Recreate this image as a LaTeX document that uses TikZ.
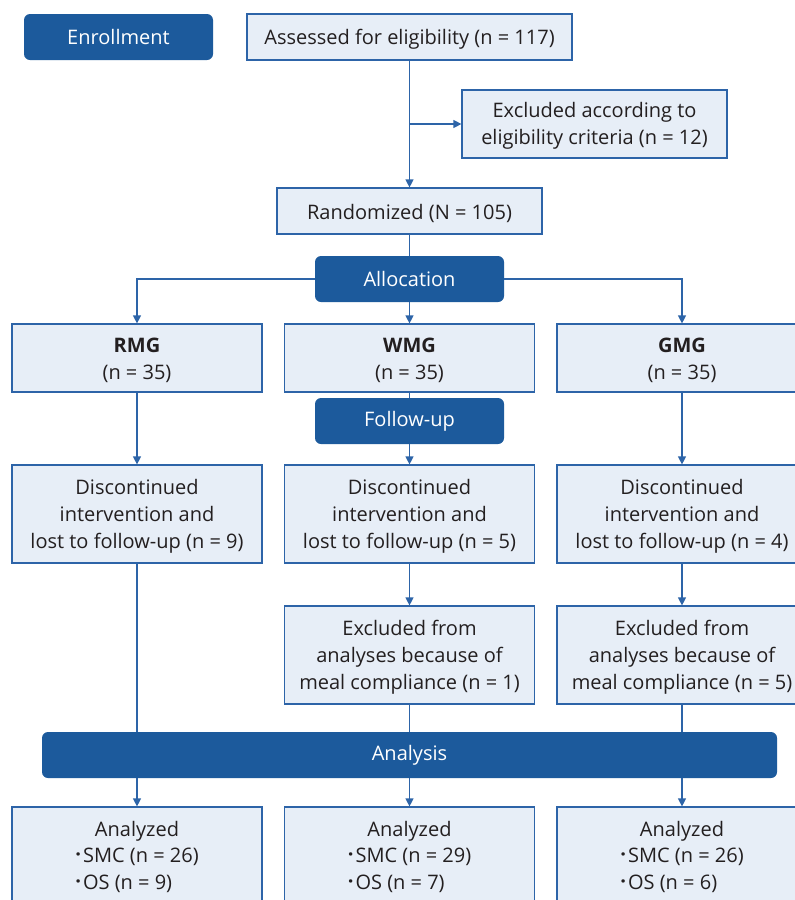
\documentclass[tikz,border=0pt]{standalone}
\usepackage{fontspec}
\setmainfont{Open Sans}
\usetikzlibrary{arrows.meta}
\definecolor{dblue}{HTML}{1C5A9C}
\definecolor{lblue}{HTML}{2D64A8}
\definecolor{boxfill}{HTML}{E7EEF7}
\definecolor{txt}{HTML}{231F20}
\newcommand{\mydot}{\raisebox{0.1ex}{\textbf{·}}\kern2pt}
\newcommand{\lift}{\rule{0pt}{19pt}}
\newcommand{\liftb}{\rule{0pt}{22pt}}
\begin{document}
\begin{tikzpicture}[x=1pt,y=-1pt,
  box/.style={draw=lblue, fill=boxfill, line width=1.2pt, inner sep=0pt, align=center, text=txt, font=\fontsize{20}{27}\selectfont},
  phase/.style={fill=dblue, rounded corners=6pt, text=white, inner sep=0pt, align=center, font=\fontsize{20}{27}\selectfont},
  conn/.style={draw=lblue, line width=1.2pt},
  arr/.style={conn, -{Triangle[length=8pt,width=8pt]}}]
\useasboundingbox (0,0) rectangle (795,900);
\fill[white] (0,0) rectangle (795,900);
% top
\node[phase, minimum width=189pt, minimum height=46pt] (enr) at (118.5,37) {Enrollment};
\node[box, minimum width=325pt, minimum height=46pt] (assess) at (409.5,37) {\rule{0pt}{20pt}Assessed for eligibility (n = 117)};
\node[box, minimum width=265pt, minimum height=68pt] (excl) at (594.5,124) {\lift Excluded according to\\eligibility criteria (n = 12)};
\node[box, minimum width=265pt, minimum height=46pt] (rand) at (409.5,211) {\rule{0pt}{20pt}Randomized (N = 105)};
\node[phase, minimum width=189pt, minimum height=46pt] (alloc) at (409.5,279) {Allocation};
% groups
\node[box, minimum width=250pt, minimum height=68pt] (rmg) at (137,358) {\lift\textbf{RMG}\\(n = 35)};
\node[box, minimum width=250pt, minimum height=68pt] (wmg) at (409.5,358) {\lift\textbf{WMG}\\(n = 35)};
\node[box, minimum width=250pt, minimum height=68pt] (gmg) at (682,358) {\lift\textbf{GMG}\\(n = 35)};
\node[phase, minimum width=189pt, minimum height=46pt] (fu) at (409.5,421) {Follow-up};
% discontinued
\node[box, minimum width=250pt, minimum height=98pt] (d1) at (137,514) {\lift Discontinued\\intervention and\\lost to follow-up (n = 9)};
\node[box, minimum width=250pt, minimum height=98pt] (d2) at (409.5,514) {\lift Discontinued\\intervention and\\lost to follow-up (n = 5)};
\node[box, minimum width=250pt, minimum height=98pt] (d3) at (682,514) {\lift Discontinued\\intervention and\\lost to follow-up (n = 4)};
% excluded from analyses
\node[box, minimum width=250pt, minimum height=98pt] (e2) at (409.5,655) {\lift Excluded from\\analyses because of\\meal compliance (n = 1)};
\node[box, minimum width=250pt, minimum height=98pt] (e3) at (682,655) {\lift Excluded from\\analyses because of\\meal compliance (n = 5)};
% analysis
\node[phase, minimum width=735pt, minimum height=46pt] (ana) at (409.5,755) {Analysis};
\node[box, minimum width=250pt, minimum height=98pt] (a1) at (137,856) {\liftb Analyzed\\[1pt]\begin{tabular}{@{}l@{}}\mydot SMC (n = 26)\\[0pt]\mydot OS (n = 9)\end{tabular}};
\node[box, minimum width=250pt, minimum height=98pt] (a2) at (409.5,856) {\liftb Analyzed\\[1pt]\begin{tabular}{@{}l@{}}\mydot SMC (n = 29)\\[0pt]\mydot OS (n = 7)\end{tabular}};
\node[box, minimum width=250pt, minimum height=98pt] (a3) at (682,856) {\liftb Analyzed\\[1pt]\begin{tabular}{@{}l@{}}\mydot SMC (n = 26)\\[0pt]\mydot OS (n = 6)\end{tabular}};
% connectors
\draw[arr] (assess.south) -- (rand.north);
\draw[arr] (assess.south |- excl.west) -- (excl.west);
\draw[conn] (rand.south) -- (alloc.north);
\draw[arr] (alloc.west) -| (rmg.north);
\draw[arr] (alloc.south) -- (wmg.north);
\draw[arr] (alloc.east) -| (gmg.north);
\draw[arr] (rmg.south) -- (d1.north);
\draw[conn] (wmg.south) -- (fu.north);
\draw[arr] (fu.south) -- (d2.north);
\draw[arr] (gmg.south) -- (d3.north);
\draw[arr] (d2.south) -- (e2.north);
\draw[arr] (d3.south) -- (e3.north);
\draw[conn] (d1.south) -- (d1.south |- ana.north);
\draw[conn] (e2.south) -- (e2.south |- ana.north);
\draw[conn] (e3.south) -- (e3.south |- ana.north);
\draw[arr] (ana.south -| a1.north) -- (a1.north);
\draw[arr] (ana.south -| a2.north) -- (a2.north);
\draw[arr] (ana.south -| a3.north) -- (a3.north);
\end{tikzpicture}
\end{document}
